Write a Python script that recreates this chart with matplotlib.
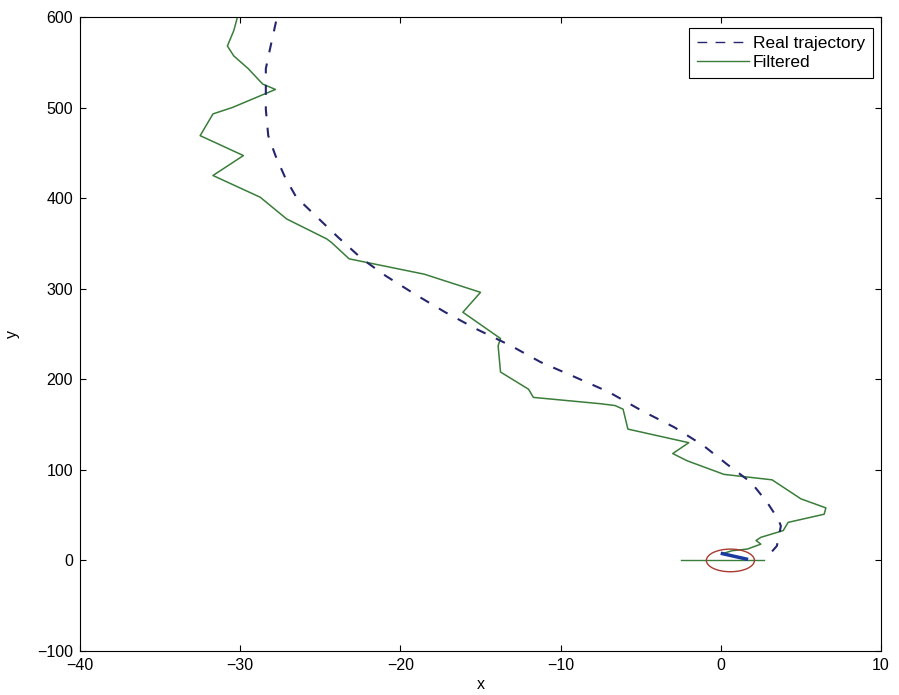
import matplotlib
matplotlib.use("Agg")
import matplotlib.pyplot as plt
from matplotlib.patches import Ellipse
from matplotlib.lines import Line2D

plt.rcParams['font.family'] = ['Liberation Sans', 'DejaVu Sans']

# Real trajectory (dashed)
real_x = [3.2, 3.5, 3.75, 3.6, 2.9, 1.9, 0.4, -1.1, -2.9, -4.9, -7.0, -9.3, -11.25,
          -13.1, -15.2, -17.2, -19.1, -20.9, -22.4, -23.9, -25.2, -26.5, -27.2,
          -27.8, -28.25, -28.4, -28.4, -28.1, -27.8, -27.7]
real_y = [10, 16, 38, 45, 64, 86, 106, 127, 147, 165, 186, 204, 219,
          237, 255, 274, 294, 314, 333, 357, 379, 401, 423,
          447, 469, 498, 543, 568, 592, 600]

# Filtered estimate (solid green)
filt_x = [-30.2, -30.4, -30.8, -30.4, -29.5, -28.6, -27.8, -28.75, -30.5, -31.7,
          -32.2, -32.5, -29.8, -31.7, -28.75, -27.1, -24.6, -24.3, -23.2, -22.1,
          -18.5, -15.0, -16.1, -13.75, -13.9, -13.75, -12.0, -11.7, -7.5, -6.6,
          -6.1, -5.8, -2.0, -3.0, -2.1, 0.2, 3.2, 4.4, 5.0, 6.56,
          6.45, 4.2, 3.9, 2.5, 2.2, 2.5, 1.67, 0.7, 0.1, 1.6]
filt_y = [598, 585, 568, 557, 543, 526, 520, 513, 500, 493,
          478, 469, 447, 425, 401, 377, 355, 351, 333, 329,
          316, 296, 274, 245, 237, 208, 189, 180, 173, 171,
          167, 145, 130, 118, 110, 95, 89, 75, 68, 58,
          51, 42, 33, 25.5, 22, 18, 12.6, 10.7, 7.5, 1.5]

# Start marker elements
start_blue_x = [0.1, 1.6]
start_blue_y = [7.5, 1.5]
heading_x = [-2.5, 2.7]
heading_y = [0, 0]
circle_center = (0.6, 0)
circle_w = 3.0
circle_h = 25

xticks = [-40, -30, -20, -10, 0, 10]
yticks = [-100, 0, 100, 200, 300, 400, 500, 600]
series_labels = ['Real trajectory', 'Filtered']

blue = '#26266e'
green = '#3a7d3a'

fig = plt.figure(figsize=(8.99, 6.95), dpi=100)
ax = fig.add_axes([80/899, 1-651/695, (881-80)/899, (651-17)/695])

ax.plot(real_x, real_y, color=blue, lw=1.5, dashes=(4.8, 5.5), zorder=3)
ax.plot(filt_x, filt_y, color=green, lw=1.1, zorder=2)
ax.plot(heading_x, heading_y, color=green, lw=1.0, zorder=2)
ax.plot(start_blue_x, start_blue_y, color='#1a3aa0', lw=2.5, zorder=4)
ax.add_patch(Ellipse(circle_center, circle_w, circle_h, fill=False,
                     edgecolor='#a83a30', lw=1.0, zorder=5))

ax.set_xlim(-40, 10)
ax.set_ylim(-100, 600)
ax.set_xticks(xticks)
ax.set_yticks(yticks)
ax.tick_params(direction='in', length=4.5, top=True, right=True, labelsize=11.5,
               width=0.8, pad=5)
for s in ax.spines.values():
    s.set_linewidth(0.8)
ax.set_xlabel('x', fontsize=11.5, labelpad=3)
ax.set_ylabel('y', fontsize=11.5, labelpad=12)

handles = [Line2D([], [], color=blue, lw=1.0, dashes=(7, 6)),
           Line2D([], [], color=green, lw=1.0)]
leg = ax.legend(handles, series_labels, loc='upper right',
                bbox_to_anchor=((873-80)/801, 1-(28-17)/634),
                fontsize=12.5, handlelength=3.0, fancybox=False,
                borderaxespad=0, framealpha=1, edgecolor='black',
                borderpad=0.45, labelspacing=0.25, handletextpad=0.25)
leg.get_frame().set_linewidth(0.8)

fig.savefig('out.png', dpi=100)
